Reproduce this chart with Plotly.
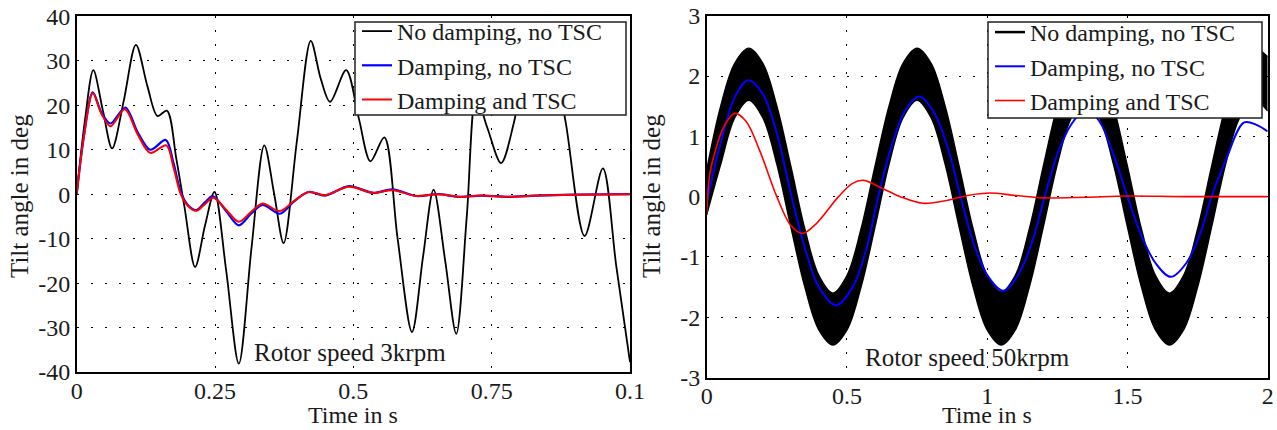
import plotly.graph_objects as go

FONT = "'Liberation Serif', 'Times New Roman', Times, 'DejaVu Serif', serif"
TXT = "#1a1a1a"

# ---------------- Left panel: rotor speed 3 krpm ----------------
x_ticks_left = [0, 0.025, 0.05, 0.075, 0.1]
x_ticktext_left = ["0", "0.25", "0.5", "0.75", "0.1"]
y_ticks_left = [-40, -30, -20, -10, 0, 10, 20, 30, 40]
y_ticktext_left = ["-40", "-30", "-20", "-10", "0", "10", "20", "30", "40"]

t_l_black = [0.0, 0.0015, 0.0030, 0.0047, 0.0064, 0.0085, 0.0107, 0.0128, 0.0146, 0.0163,
             0.0180, 0.0195, 0.0214, 0.0232, 0.0249, 0.0270, 0.0293, 0.0316, 0.0339, 0.0357,
             0.0374, 0.0398, 0.0423, 0.0441, 0.0458, 0.0487, 0.0510, 0.0531, 0.0556, 0.0580,
             0.0606, 0.0626, 0.0645, 0.0666, 0.0686, 0.0705, 0.0722, 0.0742, 0.0767, 0.0790,
             0.0812, 0.0838, 0.0862, 0.0884, 0.0918, 0.0951, 0.0975, 0.1000]
v_l_black = [0.0, 16.7, 27.9, 19.0, 10.3, 21.0, 33.6, 24.2, 17.6, 18.8,
             8.0, -3.0, -16.4, -7.0, 0.5, -17.0, -38.1, -12.0, 11.0, 0.0,
             -11.0, 12.0, 34.5, 26.0, 20.8, 27.9, 17.0, 7.4, 12.8, -10.0,
             -31.0, -14.0, 1.05, -15.0, -31.4, -5.0, 22.0, 15.0, 7.0, 16.0,
             30.0, 36.0, 30.0, 16.0, -9.4, 5.8, -16.0, -37.8]

t_l_blue = [0.0, 0.0013, 0.0029, 0.0045, 0.0061, 0.0088, 0.0110, 0.0133, 0.0161, 0.0175,
            0.0188, 0.0200, 0.0216, 0.0232, 0.0246, 0.0270, 0.0293, 0.0315, 0.0336, 0.0367,
            0.0393, 0.0419, 0.0449, 0.0492, 0.0536, 0.0571, 0.0614, 0.0653, 0.0693, 0.0730,
            0.0780, 0.0830, 0.0900, 0.1000]
v_l_blue = [0.0, 13.0, 22.9, 18.3, 15.9, 19.5, 14.0, 10.0, 12.2, 7.0,
            0.5, -2.3, -3.6, -1.8, -0.4, -3.8, -7.0, -4.4, -2.4, -4.4,
            -1.6, 0.5, -0.3, 1.8, 0.3, 1.1, -0.4, 0.0, -0.6, -0.3,
            -0.6, -0.3, -0.1, 0.0]

t_l_red = [0.0, 0.0013, 0.0029, 0.0045, 0.0061, 0.0087, 0.0110, 0.0133, 0.0162, 0.0175,
           0.0188, 0.0200, 0.0216, 0.0232, 0.0247, 0.0270, 0.0293, 0.0315, 0.0336, 0.0367,
           0.0393, 0.0419, 0.0449, 0.0492, 0.0536, 0.0571, 0.0614, 0.0653, 0.0693, 0.0730,
           0.0780, 0.0830, 0.0900, 0.1000]
v_l_red = [0.0, 13.0, 22.7, 18.0, 15.3, 19.1, 13.5, 9.3, 11.0, 6.0,
           0.0, -2.5, -3.75, -2.2, -0.8, -3.5, -6.2, -4.0, -2.1, -3.8,
           -1.5, 0.5, -0.2, 1.65, 0.3, 0.9, -0.4, 0.0, -0.6, -0.3,
           -0.6, -0.3, -0.1, 0.0]

# ---------------- Right panel: rotor speed 50 krpm ----------------
x_ticks_right = [0, 0.5, 1, 1.5, 2]
x_ticktext_right = ["0", "0.5", "1", "1.5", "2"]
y_ticks_right = [-3, -2, -1, 0, 1, 2, 3]
y_ticktext_right = ["-3", "-2", "-1", "0", "1", "2", "3"]

t_r_band = [0.00, 0.05, 0.10, 0.15, 0.20, 0.25, 0.30, 0.35, 0.40, 0.45,
            0.50, 0.55, 0.60, 0.65, 0.70, 0.75, 0.80, 0.85, 0.90, 0.95,
            1.00, 1.05, 1.10, 1.15, 1.20, 1.25, 1.30, 1.35, 1.40, 1.45,
            1.50, 1.55, 1.60, 1.65, 1.70, 1.75, 1.80, 1.85, 1.90, 1.95,
            2.00]
v_r_band_upper = [0.44, 1.50, 2.21, 2.46, 2.21, 1.50, 0.50, -0.54, -1.31, -1.60,
                  -1.31, -0.54, 0.50, 1.50, 2.21, 2.46, 2.21, 1.50, 0.50, -0.54,
                  -1.31, -1.58, -1.31, -0.54, 0.50, 1.50, 2.21, 2.46, 2.21, 1.50,
                  0.50, -0.54, -1.31, -1.60, -1.31, -0.54, 0.50, 1.50, 2.21, 2.46,
                  2.32]
v_r_band_lower = [-0.30, 0.54, 1.31, 1.60, 1.31, 0.54, -0.50, -1.50, -2.21, -2.46,
                  -2.21, -1.50, -0.50, 0.54, 1.31, 1.60, 1.31, 0.54, -0.50, -1.50,
                  -2.21, -2.46, -2.21, -1.50, -0.50, 0.54, 1.31, 1.60, 1.31, 0.54,
                  -0.50, -1.50, -2.21, -2.46, -2.21, -1.50, -0.50, 0.54, 1.31, 1.60,
                  1.42]

t_r_blue = [0.0, 0.05, 0.10, 0.148, 0.20, 0.25, 0.30, 0.35, 0.40, 0.461,
            0.52, 0.57, 0.609, 0.66, 0.71, 0.757, 0.81, 0.86, 0.905, 0.95,
            1.00, 1.057, 1.11, 1.16, 1.205, 1.25, 1.30, 1.353, 1.40, 1.45,
            1.50, 1.55, 1.60, 1.655, 1.71, 1.76, 1.80, 1.85, 1.916, 1.96,
            2.00]
v_r_blue = [-0.1, 0.9, 1.65, 1.93, 1.70, 1.05, 0.05, -0.85, -1.50, -1.80,
            -1.50, -0.85, -0.05, 0.85, 1.45, 1.66, 1.40, 0.80, 0.0, -0.75,
            -1.30, -1.56, -1.30, -0.75, 0.0, 0.70, 1.20, 1.45, 1.25, 0.70,
            0.0, -0.65, -1.10, -1.33, -1.10, -0.60, 0.0, 0.60, 1.23, 1.19,
            1.08]

t_r_red = [0.0, 0.01, 0.03, 0.06, 0.10, 0.14, 0.19, 0.25, 0.30, 0.34,
           0.39, 0.47, 0.52, 0.56, 0.62, 0.69, 0.77, 0.86, 0.93, 1.01,
           1.10, 1.20, 1.35, 1.50, 1.70, 2.00]
v_r_red = [-0.3, 0.35, 0.75, 1.15, 1.38, 1.25, 0.75, 0.0, -0.48, -0.61,
           -0.45, 0.0, 0.22, 0.27, 0.15, 0.0, -0.11, -0.06, 0.02, 0.06,
           0.02, -0.02, -0.01, 0.01, 0.0, 0.0]

names = ["No damping, no TSC", "Damping, no TSC", "Damping and TSC"]

fig = go.Figure()

# left panel traces
fig.add_trace(go.Scatter(x=t_l_black, y=v_l_black, mode="lines", name=names[0],
                         line=dict(color="black", width=1.8, shape="spline", smoothing=0.9),
                         xaxis="x", yaxis="y", legend="legend"))
fig.add_trace(go.Scatter(x=t_l_blue, y=v_l_blue, mode="lines", name=names[1],
                         line=dict(color="#0000ff", width=2.2, shape="spline", smoothing=0.9),
                         xaxis="x", yaxis="y", legend="legend"))
fig.add_trace(go.Scatter(x=t_l_red, y=v_l_red, mode="lines", name=names[2],
                         line=dict(color="#ff0000", width=2.0, shape="spline", smoothing=0.9),
                         xaxis="x", yaxis="y", legend="legend"))

# right panel traces
fig.add_trace(go.Scatter(x=t_r_band, y=v_r_band_lower, mode="lines", showlegend=False,
                         line=dict(color="black", width=1.5, shape="spline", smoothing=1.0),
                         xaxis="x2", yaxis="y2", hoverinfo="skip"))
fig.add_trace(go.Scatter(x=t_r_band, y=v_r_band_upper, mode="lines", showlegend=False,
                         fill="tonexty", fillcolor="black",
                         line=dict(color="black", width=1.5, shape="spline", smoothing=1.0),
                         xaxis="x2", yaxis="y2", hoverinfo="skip"))
fig.add_trace(go.Scatter(x=[None], y=[None], mode="lines", name=names[0],
                         line=dict(color="black", width=2.5),
                         xaxis="x2", yaxis="y2", legend="legend2"))
fig.add_trace(go.Scatter(x=t_r_blue, y=v_r_blue, mode="lines", name=names[1],
                         line=dict(color="#0000ff", width=2.0, shape="spline", smoothing=1.0),
                         xaxis="x2", yaxis="y2", legend="legend2"))
fig.add_trace(go.Scatter(x=t_r_red, y=v_r_red, mode="lines", name=names[2],
                         line=dict(color="#ff0000", width=1.6, shape="spline", smoothing=1.0),
                         xaxis="x2", yaxis="y2", legend="legend2"))

axis_common = dict(
    showline=True, mirror=True, linecolor="black", linewidth=1.5,
    showgrid=True, gridcolor="black", gridwidth=1.4, griddash="2px,12px",
    zeroline=False, ticks="outside", ticklen=0, tickcolor="rgba(0,0,0,0)",
    tickfont=dict(family=FONT, size=24, color=TXT), automargin=False,
)
W, H = 1277, 430

legend_common = dict(xanchor="left", yanchor="top", bgcolor="rgba(0,0,0,0)",
                     borderwidth=0, traceorder="normal",
                     font=dict(family=FONT, size=24, color=TXT), tracegroupgap=0)

title_font = dict(family=FONT, size=24, color=TXT)


def box(x0, x1, y0, y1):
    # opaque legend frame (pixel positions converted to paper fractions)
    return dict(type="rect", xref="paper", yref="paper", layer="above",
                x0=x0 / W, x1=x1 / W, y0=(H - y1) / H, y1=(H - y0) / H,
                fillcolor="white", line=dict(color="#222", width=1.5))


fig.update_layout(
    width=W, height=H,
    margin=dict(l=0, r=0, t=0, b=0, autoexpand=False),
    paper_bgcolor="white", plot_bgcolor="white",
    font=dict(family=FONT, size=25, color=TXT),
    xaxis=dict(domain=[76.7 / W, 630 / W], range=[0, 0.1], anchor="y",
               tickvals=x_ticks_left, ticktext=x_ticktext_left, ticklabelstandoff=-4,
               **axis_common),
    yaxis=dict(domain=[(H - 372) / H, (H - 16.4) / H], range=[-40, 40], anchor="x",
               tickvals=y_ticks_left, ticktext=y_ticktext_left, **axis_common),
    xaxis2=dict(domain=[706.7 / W, 1267.7 / W], range=[0, 2], anchor="y2",
                tickvals=x_ticks_right, ticktext=x_ticktext_right, ticklabelstandoff=-4,
                **axis_common),
    yaxis2=dict(domain=[(H - 377.6) / H, (H - 15.7) / H], range=[-3, 3], anchor="x2",
                tickvals=y_ticks_right, ticktext=y_ticktext_right, **axis_common),
    legend=dict(x=357 / W, y=(H - 9) / H, **legend_common),
    legend2=dict(x=990 / W, y=(H - 10) / H, **legend_common),
    shapes=[box(355, 626, 22, 115), box(988, 1262, 22, 118)],
    annotations=[
        # axis titles
        dict(text="Time in s", x=353 / W, y=0, xref="paper", yref="paper",
             showarrow=False, font=title_font, xanchor="center", yanchor="bottom"),
        dict(text="Time in s", x=987 / W, y=0, xref="paper", yref="paper",
             showarrow=False, font=title_font, xanchor="center", yanchor="bottom"),
        dict(text="Tilt angle in deg", x=20 / W, y=(H - 196) / H, xref="paper", yref="paper",
             showarrow=False, font=dict(family=FONT, size=25, color=TXT), textangle=-90,
             xanchor="center", yanchor="middle"),
        dict(text="Tilt angle in deg", x=652 / W, y=(H - 196) / H, xref="paper", yref="paper",
             showarrow=False, font=dict(family=FONT, size=25, color=TXT), textangle=-90,
             xanchor="center", yanchor="middle"),
        # panel notes
        dict(text="Rotor speed 3krpm", x=0.0494, y=-35.6, xref="x", yref="y",
             showarrow=False, font=dict(family=FONT, size=25, color=TXT)),
        dict(text="Rotor speed 50krpm", x=0.928, y=-2.67, xref="x2", yref="y2",
             showarrow=False, font=dict(family=FONT, size=25, color=TXT)),
    ],
)

fig.write_html("out.html",
               config={"displayModeBar": False},
               post_script="document.body.style.margin='0px';document.body.style.overflow='hidden';")
